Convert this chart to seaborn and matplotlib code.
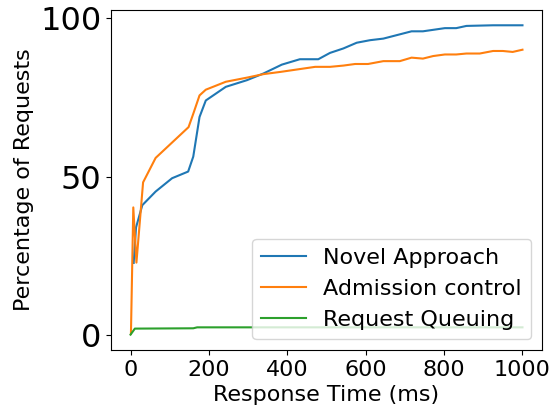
import matplotlib
matplotlib.use("Agg")
import matplotlib.pyplot as plt
import seaborn as sns
import pandas as pd

# values
novel_x = [8, 14, 30, 64, 106, 147, 160, 176, 192, 243, 297, 339, 386, 432, 479,
           509, 543, 577, 611, 645, 717, 746, 802, 831, 857, 925, 1000]
novel_y = [22.8, 34, 41, 45.3, 49.5, 51.6, 56.3, 68.8, 74, 78.3, 80.4, 82.5, 85.3, 87, 87,
           89, 90.4, 92.2, 93, 93.5, 95.8, 95.8, 96.8, 96.8, 97.5, 97.7, 97.7]

admission_x = [1, 7, 15, 32, 64, 148, 160, 176, 192, 243, 297, 339, 382, 471, 509, 543,
               573, 606, 645, 687, 717, 746, 772, 802, 831, 857, 891, 925, 950, 975, 1000]
admission_y = [0.5, 40.3, 22.9, 48.2, 55.9, 65.6, 69.8, 75.6, 77.4, 79.9, 81.2, 82.3, 83,
               84.6, 84.6, 85, 85.5, 85.5, 86.4, 86.4, 87.5, 87.2, 88, 88.5, 88.5, 88.8,
               88.8, 89.6, 89.6, 89.3, 90]

queuing_x = [0, 11, 160, 170, 1000]
queuing_y = [0.2, 2.1, 2.2, 2.5, 2.5]

labels = ['Novel Approach', 'Admission control', 'Request Queuing']


def build_frame():
    parts = []
    for xs, ys, name in zip([novel_x, admission_x, queuing_x],
                            [novel_y, admission_y, queuing_y], labels):
        parts.append(pd.DataFrame({'time': xs, 'pct': ys, 'series': name}))
    return pd.concat(parts, ignore_index=True)


if __name__ == '__main__':
    df = build_frame()
    fig = plt.figure(figsize=(5.52, 4.09), dpi=100)
    ax = fig.add_axes([0.201, 0.144, 0.781, 0.832])
    sns.lineplot(data=df, x='time', y='pct', hue='series', hue_order=labels,
                 palette=['#1f77b4', '#ff7f0e', '#2ca02c'], sort=False,
                 estimator=None, linewidth=1.5, ax=ax)
    ax.set_xlabel('Response Time (ms)', fontsize=16)
    ax.set_ylabel('Percentage of Requests', fontsize=16)
    ax.set_xticks([0, 200, 400, 600, 800, 1000])
    ax.set_yticks([0, 50, 100])
    ax.tick_params(axis='x', labelsize=16)
    ax.tick_params(axis='y', labelsize=23)
    ax.legend(loc='lower right', fontsize=16, title=None)
    fig.savefig('out.png', dpi=100)
